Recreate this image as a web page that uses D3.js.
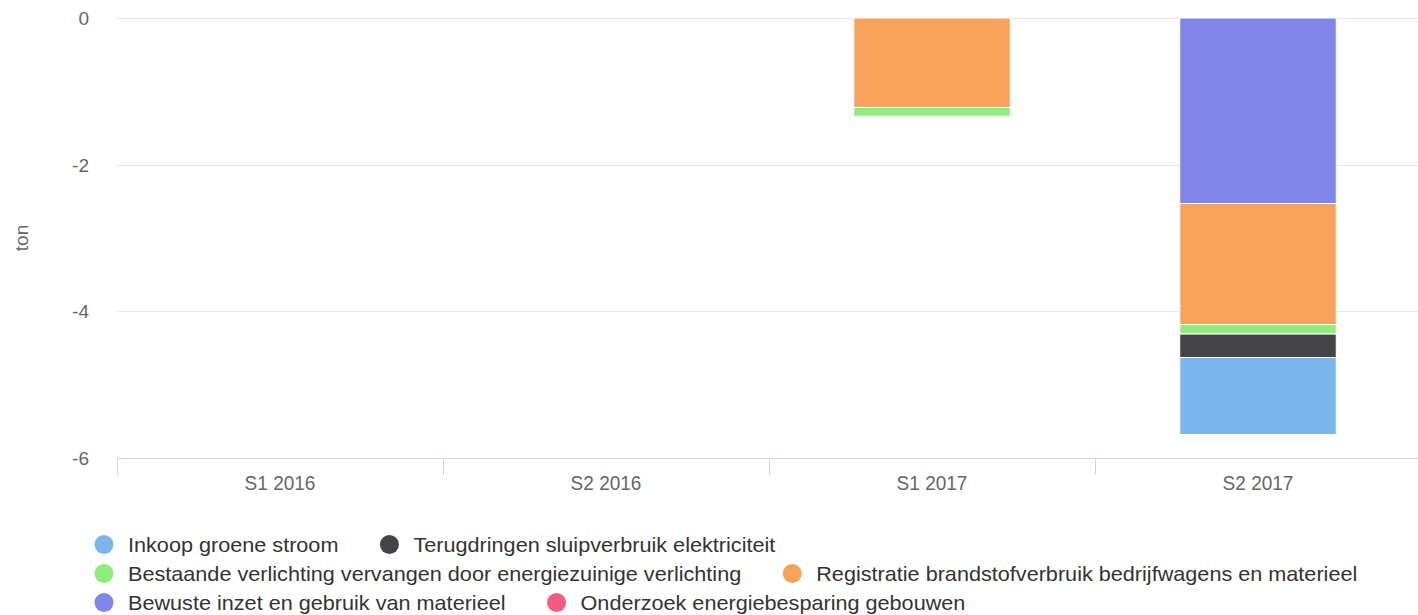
<!DOCTYPE html>
<html>
<head>
<meta charset="utf-8">
<script src="https://cdn.jsdelivr.net/npm/d3@7"></script>
<style>
  body { margin: 0; background: #fff; }
  svg { font-family: "Liberation Sans", Arial, Helvetica, sans-serif; }
</style>
</head>
<body>
<div class="chart"></div>
<script>
// chart data
var categories = ["S1 2016", "S2 2016", "S1 2017", "S2 2017"];
var seriesNames = [
  "Inkoop groene stroom",
  "Terugdringen sluipverbruik elektriciteit",
  "Bestaande verlichting vervangen door energiezuinige verlichting",
  "Registratie brandstofverbruik bedrijfwagens en materieel",
  "Bewuste inzet en gebruik van materieel",
  "Onderzoek energiebesparing gebouwen"
];
var inkoopGroeneStroom = [0, 0, 0, -1.05];
var sluipverbruik = [0, 0, 0, -0.32];
var verlichting = [0, 0, -0.12, -0.13];
var brandstofverbruik = [0, 0, -1.22, -1.65];
var inzetMaterieel = [0, 0, 0, -2.53];
var energieGebouwen = [0, 0, 0, 0];
var yTicks = [0, -2, -4, -6];
var colors = ["#7cb5ec", "#434348", "#90ed7d", "#f7a35c", "#8085e9", "#f15c80"];

var seriesValues = [inkoopGroeneStroom, sluipverbruik, verlichting,
  brandstofverbruik, inzetMaterieel, energieGebouwen];

var svgWidth = 1418;
var svgHeight = 615;

var margin = { top: 18, right: -3, bottom: 157, left: 117 };
var width = svgWidth - margin.left - margin.right;
var height = svgHeight - margin.top - margin.bottom;

var svg = d3.select(".chart")
  .append("svg")
  .attr("width", svgWidth)
  .attr("height", svgHeight);

var chartGroup = svg.append("g")
  .attr("transform", `translate(${margin.left}, ${margin.top})`);

// stretch / squeeze text horizontally to match the original font widths
function squeeze(sel, k) {
  sel.each(function () {
    var n = this.getComputedTextLength();
    d3.select(this).attr("textLength", n * k).attr("lengthAdjust", "spacingAndGlyphs");
  });
}

// build rows for the stack
var rows = categories.map(function (c, i) {
  var row = { category: c };
  seriesNames.forEach(function (s, j) { row[s] = seriesValues[j][i]; });
  return row;
});

var xScale = d3.scaleBand()
  .domain(categories)
  .range([0, width])
  .paddingInner(0.52)
  .paddingOuter(0.26);

var xStep = d3.scaleBand().domain(categories).range([0, width]).padding(0);

var yScale = d3.scaleLinear()
  .domain([-6, 0])
  .range([height, 0]);

// gridlines
chartGroup.append("g")
  .selectAll("line")
  .data(yTicks.filter(d => d !== -6))
  .enter()
  .append("line")
  .attr("x1", 0)
  .attr("x2", width)
  .attr("y1", d => Math.round(yScale(d)) + 0.5)
  .attr("y2", d => Math.round(yScale(d)) + 0.5)
  .attr("stroke", "#e6e6e6")
  .attr("stroke-width", 1);

// y axis labels
var leftAxis = d3.axisLeft(yScale)
  .tickValues(yTicks)
  .tickFormat(d => String(d))
  .tickSize(0)
  .tickPadding(28);
var yAxis = chartGroup.append("g").call(leftAxis);
yAxis.select(".domain").remove();
yAxis.selectAll("text")
  .attr("fill", "#666666")
  .style("font-size", "19px")
  .attr("dy", "0.34em");

// stacked columns, last series nearest to zero
var stack = d3.stack()
  .keys(seriesNames.slice().reverse())
  .offset(d3.stackOffsetDiverging);
var stacked = stack(rows);

var layers = chartGroup.append("g")
  .selectAll("g")
  .data(stacked)
  .enter()
  .append("g")
  .attr("fill", d => colors[seriesNames.indexOf(d.key)]);

layers.selectAll("rect")
  .data(d => d.filter(p => p[1] - p[0] !== 0))
  .enter()
  .append("rect")
  .attr("x", d => xScale(d.data.category))
  .attr("width", xScale.bandwidth())
  .attr("y", d => yScale(d[1]))
  .attr("height", d => yScale(d[0]) - yScale(d[1]))
  .attr("stroke", "#ffffff")
  .attr("stroke-width", 1);

// x axis
var bottomAxis = d3.axisBottom(xScale).tickSize(0).tickPadding(18);
var xAxis = chartGroup.append("g")
  .attr("transform", `translate(0, ${height})`)
  .call(bottomAxis);
xAxis.select(".domain").remove();
xAxis.selectAll("text")
  .attr("fill", "#666666")
  .style("font-size", "20px")
  .call(squeeze, 0.95);

chartGroup.append("line")
  .attr("x1", 0).attr("x2", width)
  .attr("y1", height + 0.5).attr("y2", height + 0.5)
  .attr("stroke", "#ccd6eb");

var boundaries = categories.map(c => xStep(c));
chartGroup.append("g")
  .selectAll("line")
  .data(boundaries)
  .enter()
  .append("line")
  .attr("x1", d => Math.round(d) + 0.5)
  .attr("x2", d => Math.round(d) + 0.5)
  .attr("y1", height)
  .attr("y2", height + 17)
  .attr("stroke", "#ccd6eb");

// y axis title
svg.append("text")
  .attr("transform", `translate(28, ${margin.top + height / 2}) rotate(-90)`)
  .attr("text-anchor", "middle")
  .attr("fill", "#666666")
  .style("font-size", "19px")
  .text("ton");

// legend, flow layout
var legend = svg.append("g").attr("class", "legend");
var lx = 94, ly = 544.5, maxX = 1400, rowH = 29;
seriesNames.forEach(function (name, i) {
  var item = legend.append("g");
  item.append("circle")
    .attr("cx", 10)
    .attr("cy", 0)
    .attr("r", 9.5)
    .attr("fill", colors[i]);
  var t = item.append("text")
    .attr("x", 34)
    .attr("y", 0)
    .attr("dy", "0.35em")
    .attr("fill", "#333333")
    .style("font-size", "21px")
    .text(name)
    .call(squeeze, 1.03);
  var w = 34 + +t.attr("textLength");
  if (lx + w > maxX && lx > 94) {
    lx = 94;
    ly += rowH;
  }
  item.attr("transform", `translate(${lx}, ${ly})`);
  lx += w + 41;
});
</script>
</body>
</html>
